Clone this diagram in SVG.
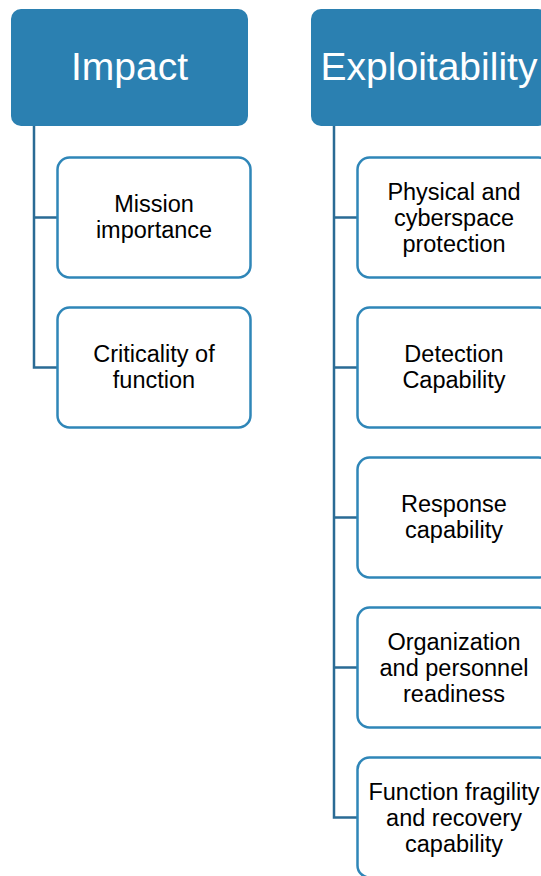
<svg xmlns="http://www.w3.org/2000/svg" width="541" height="876" viewBox="0 0 541 876">
<style>
.hdr{fill:#2B80B1;}
.hdrt{font-family:"Liberation Sans",Arial,sans-serif;font-size:39px;fill:#ffffff;text-anchor:middle;}
.box{fill:#ffffff;stroke:#2F86B8;stroke-width:2.5;}
.t{font-family:"Liberation Sans",Arial,sans-serif;font-size:23.5px;fill:#000000;text-anchor:middle;}
.con{fill:none;stroke:#2A6B95;stroke-width:2.5;}
</style>
<rect width="541" height="876" fill="#ffffff"/>
<g id="connectors">
<path class="con" d="M34,126 V367.5 H57 M34,217.5 H57"/>
<path class="con" d="M334,126 V817.5 H357 M334,217.5 H357 M334,367.5 H357 M334,517.5 H357 M334,667.5 H357"/>
</g>
<g id="impact">
<rect class="hdr" x="11" y="9" width="237" height="117" rx="10"/>
<text class="hdrt" x="129.5" y="80">Impact</text>
</g>
<g id="exploitability">
<rect class="hdr" x="311" y="9" width="237" height="117" rx="10"/>
<text class="hdrt" x="429" y="80">Exploitability</text>
</g>
<g id="mission">
<rect class="box" x="57.5" y="157.5" width="193" height="120" rx="12"/>
<text class="t" x="154" y="212">Mission</text>
<text class="t" x="154" y="238">importance</text>
</g>
<g id="criticality">
<rect class="box" x="57.5" y="307.5" width="193" height="120" rx="12"/>
<text class="t" x="154" y="362">Criticality of</text>
<text class="t" x="154" y="388">function</text>
</g>
<g id="physical">
<rect class="box" x="357.5" y="157.5" width="193" height="120" rx="12"/>
<text class="t" x="454" y="199.5">Physical and</text>
<text class="t" x="454" y="225.5">cyberspace</text>
<text class="t" x="454" y="251.5">protection</text>
</g>
<g id="detection">
<rect class="box" x="357.5" y="307.5" width="193" height="120" rx="12"/>
<text class="t" x="454" y="362">Detection</text>
<text class="t" x="454" y="388">Capability</text>
</g>
<g id="response">
<rect class="box" x="357.5" y="457.5" width="193" height="120" rx="12"/>
<text class="t" x="454" y="512">Response</text>
<text class="t" x="454" y="538">capability</text>
</g>
<g id="organization">
<rect class="box" x="357.5" y="607.5" width="193" height="120" rx="12"/>
<text class="t" x="454" y="649.5">Organization</text>
<text class="t" x="454" y="675.5">and personnel</text>
<text class="t" x="454" y="701.5">readiness</text>
</g>
<g id="function">
<rect class="box" x="357.5" y="757.5" width="193" height="120" rx="12"/>
<text class="t" x="454" y="799.5">Function fragility</text>
<text class="t" x="454" y="825.5">and recovery</text>
<text class="t" x="454" y="851.5">capability</text>
</g>
</svg>
